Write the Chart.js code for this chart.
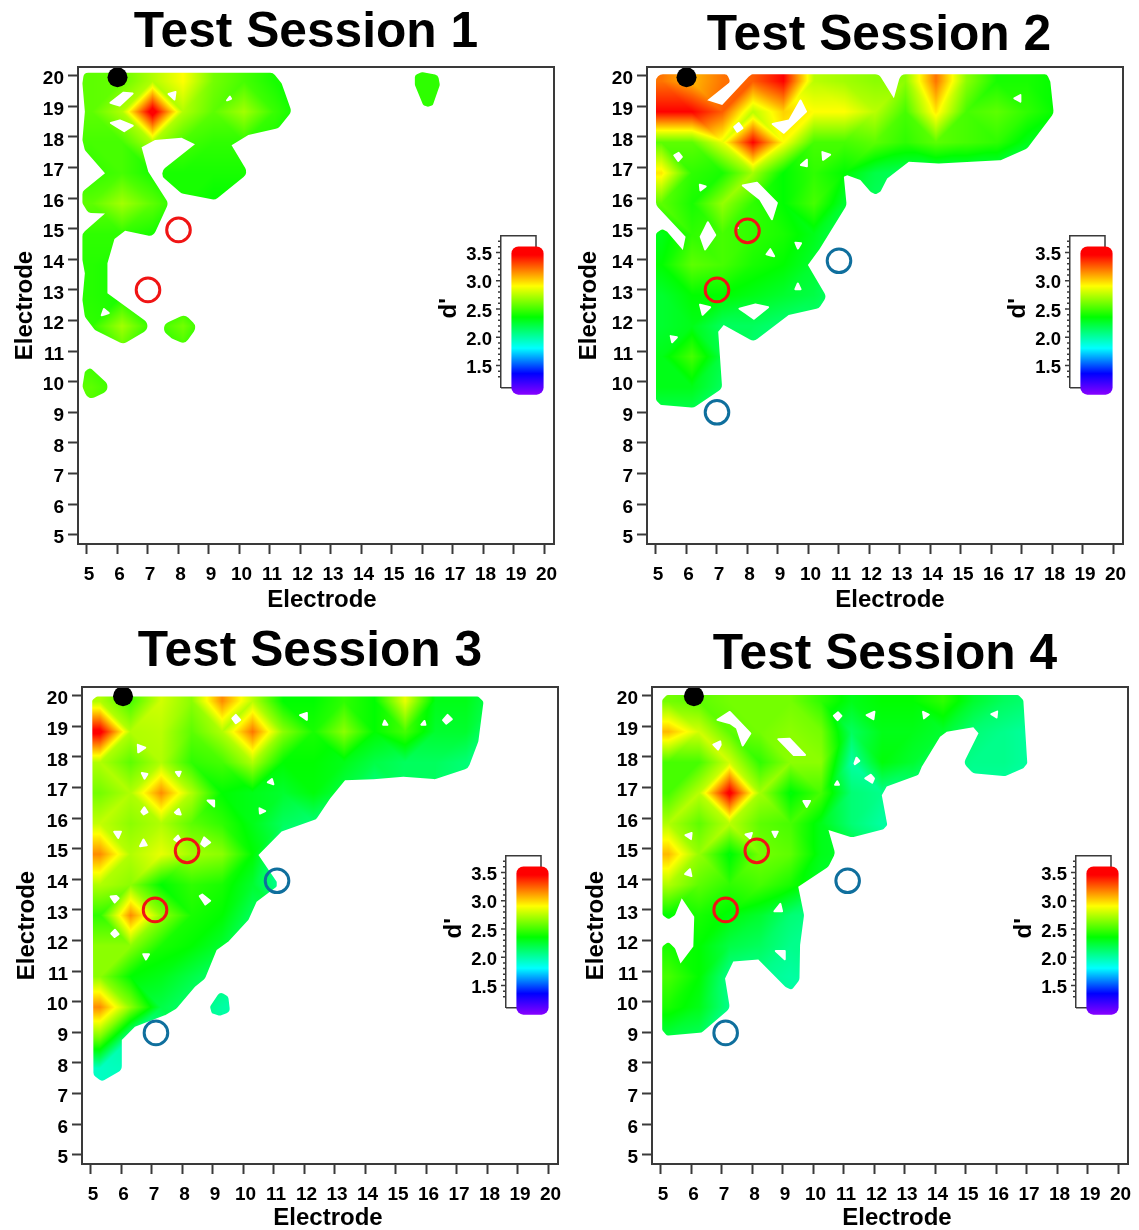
<!DOCTYPE html>
<html><head><meta charset="utf-8">
<style>html,body{margin:0;padding:0;background:#fff;overflow:hidden;width:1139px;height:1230px}
canvas{position:absolute}</style>
<script src="https://cdn.jsdelivr.net/npm/chart.js@4"></script></head>
<body>
<script>
const _ = null;
const titles = ['Test Session 1','Test Session 2','Test Session 3','Test Session 4'];
const electrodeTicks = [5,6,7,8,9,10,11,12,13,14,15,16,17,18,19,20];
const barTicks = [1.3,1.4,1.5,1.6,1.7,1.8,1.9,2.0,2.1,2.2,2.3,2.4,2.5,2.6,2.7,2.8,2.9,3.0,3.1,3.2,3.3,3.4,3.5,3.6,3.7];
const barLabels = [1.5,2.0,2.5,3.0,3.5];
const barRange = [0.99,3.6];
const colorStops = [1.05,1.4,1.85,2.4,2.95,3.5];
const colorRGB = [[128,0,255],[0,0,255],[0,255,255],[0,255,0],[255,255,0],[255,0,0]];

// d' grids: rows are electrode 20 downward, columns are electrode 5 upward
const grid1 = [
[2.6,2.62,2.78,2.95,2.65,2.55,2.45,_,_,_,_,2.5,2.5],
[2.6,2.78,3.6,2.78,2.6,2.75,2.52,2.4,_,_,_,2.5,2.5],
[2.55,2.55,2.78,2.55,2.5,2.5,2.45,_,_,_,_,2.45],
[2.5,2.55,2.45,2.45,2.45,2.45],
[2.6,2.75,2.6,2.45,2.4,2.4],
[2.5,2.5,2.45,2.4],
[2.48,2.45,2.4],
[2.48,2.45,2.45,2.4],
[2.5,2.75,2.5,2.65,2.4],
[2.5,2.55,2.5,2.5],
[2.6,2.5],
[2.55,2.4]];
const grid2 = [
[3.25,3.1,3.25,3.3,3.5,2.8,2.75,2.7,2.7,3.25,2.7,2.45,2.45,2.4],
[3.5,3.5,3.3,2.8,3.05,2.95,2.95,2.8,2.55,3.0,2.55,2.6,2.5,2.4],
[2.6,2.6,2.9,3.5,2.95,2.55,2.55,2.6,2.5,2.6,2.55,2.5,2.35,2.2],
[3.0,2.5,2.45,2.75,2.4,2.5,2.4,2.25,2.2,2.2,2.2,2.2,2.2],
[2.6,2.45,2.72,2.5,2.4,2.55,2.3,2.2],
[2.35,2.5,2.55,2.5,2.45,2.35,2.2],
[2.4,2.6,2.55,2.45,2.4,2.3,2.15],
[2.3,2.4,2.4,2.35,2.3,2.25,2.15],
[2.3,2.35,2.2,2.2,2.15,2.15],
[2.35,2.55,2.25,2.15],
[2.35,2.35,2.2],
[2.2,2.2,2.2]];
const grid3 = [
[2.78,2.55,2.85,2.7,3.2,2.8,2.4,2.4,2.5,2.4,2.9,2.35,2.35,2.2],
[3.55,2.78,2.8,2.6,2.78,3.25,2.7,2.45,2.7,2.4,2.55,2.3,2.3,2.1],
[2.78,2.6,2.78,2.5,2.55,2.78,2.4,2.4,2.35,2.25,2.2,2.2,2.15,2.05],
[2.65,2.78,3.2,2.78,2.4,2.35,2.3,2.38,2.25,2.1],
[2.82,2.7,2.78,2.6,2.5,2.35,2.2,2.15,2.05],
[3.2,2.78,2.9,2.75,2.7,2.4,2.05,2.0],
[2.78,2.7,2.4,2.5,2.45,2.3,2.05],
[2.5,3.2,2.72,2.45,2.4,2.2],
[2.7,2.7,2.45,2.4,2.3,2.15],
[2.7,2.4,2.35,2.25,2.15],
[3.2,2.7,2.25,2.15,2.05,2.0],
[2.65,2.05,2.05],
[1.98,2.0],
[1.98,2.0]];
const grid4 = [
[2.65,2.6,2.65,2.65,2.65,2.5,2.35,2.4,2.4,2.5,2.3,2.2,2.15],
[3.1,2.85,2.6,2.65,2.7,2.65,2.2,2.35,2.35,2.3,2.15,2.1,2.05],
[2.55,2.55,2.85,2.5,2.7,2.7,2.05,2.38,2.3,2.15,2.1,2.1,2.05],
[2.55,2.8,3.55,2.75,2.38,2.55,2.15,2.1,2.1,_,2.05,2.05],
[2.78,2.6,2.8,2.6,2.55,2.35,2.15,2.05],
[3.1,2.72,2.38,2.65,2.6,2.35,2.3],
[2.78,2.6,2.5,2.55,2.45,2.3],
[2.4,2.45,2.38,2.3,2.15,2.1],
[2.45,2.4,2.25,2.2,2.1,2.1],
[2.55,2.4,2.1,2.1,2.05],
[2.45,2.35,2.1],
[2.25,2.2,2.1]];

// regions above threshold, in electrode units
const region1 = [
[[4.9,20.1],[11.1,20.1],[11.38,19.75],[11.71,18.82],[11.27,18.28],[10.29,18.06],[9.74,17.73],[10.29,16.81],[9.2,15.94],[8.1,16.15],[7.34,16.81],[8.54,17.76],[8.1,17.97],[7.23,17.9],[6.79,17.66],[7.01,16.86],[7.67,15.83],[7.17,14.74],[6.25,14.93],[5.9,14.66],[5.67,13.87],[5.67,12.89],[7.17,11.8],[6.19,11.23],[5.26,11.69],[4.93,12.12],[4.85,12.67],[4.93,13.54],[4.85,13.98],[4.85,14.85],[5.59,15.5],[5.04,15.52],[4.85,15.83],[4.85,16.21],[5.59,16.81],[4.93,17.57],[4.85,17.9],[4.93,18.82],[4.85,19.75]],
[[7.34,11.8],[8.21,12.2],[8.62,11.8],[8.21,11.23],[7.77,11.42]],
[[5.1,10.46],[5.84,9.78],[5.04,9.38],[4.85,9.84],[4.93,10.33]],
[[15.75,20.02],[15.98,20.12],[16.51,20.02],[16.57,19.7],[16.34,19.04],[16.18,18.98],[16.02,19.04],[15.75,19.7]]];
const gaps1 = [
[[5.7,19.1],[6.19,19.48],[6.57,19.44],[6.08,18.99]],
[[5.7,18.47],[6.08,18.57],[6.57,18.37],[6.22,18.15]],
[[7.61,19.42],[7.94,19.51],[7.89,19.15]],
[[9.49,19.12],[9.69,19.37],[9.77,19.23]],
[[5.43,12.12],[5.54,12.43],[5.78,12.23]]];

const region2 = [
[[5,20.05],[7.33,20.05],[7.44,19.8],[6.68,19.2],[7.17,19.04],[8.04,19.97],[8.15,20.05],[12.31,20.05],[12.8,19.26],[13.02,20.05],[17.82,20.05],[17.93,19.8],[18.04,18.77],[17.17,17.62],[16.3,17.24],[14.27,17.13],[13.29,17.19],[12.58,16.64],[12.36,16.21],[12.2,16.12],[12.03,16.21],[11.7,16.59],[11.27,16.75],[11.16,16.7],[11.25,15.77],[10.34,14.3],[9.98,13.81],[10.59,12.78],[10.34,12.4],[9.35,12.18],[8.21,11.31],[7.22,11.85],[7.04,11.63],[7.17,9.78],[6.24,9.15],[5.15,9.24],[5,9.4],[5,14.85],[5.2,14.99],[5.37,14.9],[5.88,14.3],[5.97,14.74],[5,15.77]]];
const gaps2 = [
[[8.75,18.44],[9.35,18.57],[9.74,19.26],[9.96,18.82],[9.19,18.09]],
[[7.52,18.33],[7.72,18.5],[7.88,18.28],[7.66,18.12]],
[[5.55,17.41],[5.75,17.52],[5.89,17.35],[5.73,17.16]],
[[6.4,16.48],[6.7,16.39],[6.43,16.19]],
[[7.77,16.43],[8.32,16.54],[9.0,15.85],[8.81,15.23],[8.39,15.94]],
[[6.7,15.28],[6.98,14.79],[6.6,14.25],[6.43,14.74]],
[[7.66,15.07],[7.85,14.99],[7.66,14.99]],
[[8.57,14.14],[8.75,14.39],[8.94,14.05]],
[[9.52,14.58],[9.81,14.55],[9.65,14.28]],
[[9.52,12.99],[9.65,13.29],[9.79,12.99]],
[[6.4,12.56],[6.84,12.45],[6.51,12.12]],
[[7.66,12.4],[8.26,12.56],[8.75,12.45],[8.21,12.02]],
[[5.44,11.53],[5.75,11.47],[5.51,11.22]],
[[9.68,17.06],[9.98,17.33],[9.98,17.0]],
[[10.42,17.55],[10.78,17.43],[10.45,17.19]],
[[16.68,19.26],[16.98,19.42],[16.98,19.1]]];

const region3 = [
[[5.04,19.86],[5.19,19.97],[17.7,19.97],[17.87,19.81],[17.7,18.5],[17.37,17.63],[16.28,17.27],[15.24,17.35],[14.26,17.27],[13.33,17.24],[12.84,16.64],[12.38,15.96],[11.25,15.56],[10.49,14.79],[11.09,13.92],[11.09,13.76],[10.43,13.27],[10.16,12.67],[9.5,11.96],[9.12,11.69],[8.74,10.76],[8.41,10.49],[7.81,9.78],[7.43,9.56],[6.44,9.18],[6.01,8.75],[6.01,7.77],[5.35,7.39],[5.08,7.6]],
[[8.9,9.84],[9.23,10.33],[9.5,10.17],[9.56,9.67],[9.23,9.54],[8.96,9.62]]];
const gaps3 = [
[[6.5,18.44],[6.85,18.31],[6.52,18.09]],
[[6.61,17.52],[6.9,17.46],[6.75,17.22]],
[[7.72,17.54],[7.99,17.55],[7.89,17.3]],
[[8.74,16.61],[9.07,16.61],[9.07,16.3]],
[[6.61,16.21],[6.75,16.41],[6.9,16.18],[6.72,16.08]],
[[7.7,16.18],[7.89,16.35],[7.99,16.08],[7.81,16.1]],
[[10.73,17.16],[10.95,17.33],[11.03,17.05]],
[[10.49,16.37],[10.79,16.23],[10.51,16.1]],
[[5.7,15.59],[6.03,15.59],[5.9,15.28]],
[[6.55,15.04],[6.72,15.37],[6.88,15.09]],
[[7.68,15.3],[7.86,15.48],[7.97,15.28],[7.86,15.17]],
[[8.57,15.15],[8.7,15.42],[8.96,15.2],[8.72,15.03]],
[[8.52,13.46],[8.65,13.54],[8.96,13.3],[8.74,13.13]],
[[5.59,13.46],[5.84,13.49],[5.95,13.38],[5.77,13.19]],
[[5.62,12.23],[5.79,12.4],[5.95,12.2],[5.77,12.07]],
[[6.66,11.58],[6.96,11.58],[6.8,11.31]],
[[9.59,19.26],[9.75,19.42],[9.94,19.2],[9.74,19.06]],
[[11.78,19.37],[12.11,19.48],[12.11,19.15]],
[[14.53,19.02],[14.62,19.26],[14.78,19.02]],
[[15.76,19.02],[15.95,19.24],[16.01,19.02]],
[[16.5,19.2],[16.69,19.42],[16.88,19.23],[16.64,19.04]]];

const region4 = [
[[5.04,19.86],[5.19,20.02],[16.72,20.02],[16.88,19.86],[17.01,17.79],[16.88,17.63],[16.28,17.37],[15.24,17.46],[14.92,17.79],[15.41,18.77],[15.24,18.97],[14.37,18.82],[14.15,18.66],[13.55,17.68],[13.44,17.41],[12.4,17.03],[12.24,16.75],[12.42,15.77],[12.29,15.63],[11.25,15.37],[10.49,15.61],[10.71,14.85],[10.49,14.41],[9.5,13.76],[9.69,12.83],[9.56,11.85],[9.54,10.71],[9.28,10.38],[9.07,10.49],[8.19,11.38],[7.37,11.31],[7.1,10.76],[7.26,9.78],[6.33,8.99],[5.19,8.89],[5.04,9.07],[5.04,11.8],[5.24,11.96],[5.46,11.74],[5.64,11.25],[6.06,11.8],[6.09,12.78],[5.68,13.38],[5.46,12.83],[5.24,12.69],[5.05,12.83]]];
const gaps4 = [
[[6.77,19.2],[7.26,19.51],[7.97,18.77],[7.67,18.3],[7.46,18.93],[7.26,19.07]],
[[6.66,18.41],[6.97,18.55],[6.99,18.39],[6.88,18.19]],
[[8.77,18.61],[9.23,18.63],[9.8,18.03],[9.34,18.03]],
[[10.62,19.35],[10.81,19.5],[10.96,19.34],[10.79,19.15]],
[[11.31,17.79],[11.4,18.04],[11.55,17.86],[11.34,17.71]],
[[11.64,17.3],[11.88,17.46],[12.02,17.3],[11.94,17.11]],
[[10.65,17.06],[10.78,17.27],[10.89,17.06]],
[[9.61,16.59],[9.94,16.59],[9.78,16.3]],
[[11.67,19.37],[12.04,19.53],[11.99,19.18]],
[[13.55,19.53],[13.84,19.39],[13.6,19.2]],
[[15.76,19.4],[16.06,19.53],[16.03,19.24]],
[[5.73,15.45],[6.04,15.56],[6.01,15.26]],
[[7.7,15.48],[8.03,15.56],[7.94,15.28]],
[[8.6,15.59],[8.88,15.59],[8.74,15.31]],
[[5.73,14.16],[5.97,14.39],[6.04,14.06]],
[[8.65,12.92],[8.93,13.27],[9.01,12.92]],
[[8.68,11.69],[9.09,11.69],[9.09,11.31]]];

// reference electrodes
const black1=[[6,19.95]], red1=[[8,14.96],[7,13]], blue1=[];
const black2=[[6,19.95]], red2=[[8,14.93],[7,13]], blue2=[[11,13.95],[7,9]];
const black3=[[6.05,19.98]], red3=[[8.15,14.93],[7.1,13]], blue3=[[11.1,13.95],[7.13,8.98]];
const black4=[[6.08,19.98]], red4=[[8.14,14.93],[7.12,13]], blue4=[[11.12,13.95],[7.12,8.98]];

const FONT = 'Liberation Sans';
const INK = '#3a3a3a';
const XSPAN = [4.705,20.312], YSPAN = [4.696,20.284];
const panels = [
 {grid:grid1,region:region1,gaps:gaps1,black:black1,red:red1,blue:blue1,shift:0.15,title:titles[0],
  L:0,W:612,T:0,H:615,box:[78,67,554,544],titleX:306,titleY:33,yTitlePad:13,xTitleDx:6,xTitlePad:3,barDx:0,barDy:0},
 {grid:grid2,region:region2,gaps:gaps2,black:black2,red:red2,blue:blue2,shift:0.18,title:titles[1],
  L:570,W:618,T:0,H:615,box:[647,67,1123,544],titleX:879,titleY:36,yTitlePad:7,xTitleDx:5,xTitlePad:3,barDx:569,barDy:0},
 {grid:grid3,region:region3,gaps:gaps3,black:black3,red:red3,blue:blue3,shift:0.3,title:titles[2],
  L:0,W:620,T:615,H:617,box:[82,687,558,1164],titleX:310,titleY:652,yTitlePad:15,xTitleDx:8,xTitlePad:2,barDx:5,barDy:620},
 {grid:grid4,region:region4,gaps:gaps4,black:black4,red:red4,blue:blue4,shift:0.25,title:titles[3],
  L:575,W:620,T:615,H:617,box:[652,687,1128,1164],titleX:885,titleY:655,yTitlePad:9,xTitleDx:7,xTitlePad:2,barDx:575,barDy:620}
];
const SHIFT_Y = 0.18;

function colorOf(v){
  const s=colorStops,c=colorRGB;
  if(v<=s[0])return c[0];
  for(let i=1;i<s.length;i++){
    if(v<=s[i]){const t=(v-s[i-1])/(s[i]-s[i-1]);
      return [0,1,2].map(k=>c[i-1][k]+(c[i][k]-c[i-1][k])*t);}
  }
  return c[c.length-1];
}
function valueAt(g,u,w){
  u=Math.max(0,Math.min(14.999,u));w=Math.max(0,Math.min(14.999,w));
  const i=Math.floor(u),j=Math.floor(w),fu=u-i,fw=w-j;
  const cell=[g[j]?.[i]??null,g[j]?.[i+1]??null,g[j+1]?.[i]??null,g[j+1]?.[i+1]??null];
  const have=cell.filter(v=>v!==null);
  if(!have.length)return null;
  const m=have.reduce((a,b)=>a+b,0)/have.length;
  const [a,b,c,d]=cell.map(v=>v===null?m:v);
  if(Math.abs(a-d)<=Math.abs(b-c)){
    return fu>=fw? a+(b-a)*fu+(d-b)*fw : a+(c-a)*fw+(d-c)*fu;
  }
  return fu+fw<=1? a+(b-a)*fu+(c-a)*fw : d+(c-d)*(1-fu)+(b-d)*(1-fw);
}
function tracePoly(ctx,pts,R){
  let area=0;const n=pts.length;
  for(let i=0;i<n;i++){const p=pts[i],q=pts[(i+1)%n];area+=p[0]*q[1]-q[0]*p[1];}
  const d=(p,q)=>Math.hypot(p[0]-q[0],p[1]-q[1]);
  const last=pts[n-1],first=pts[0];
  ctx.moveTo((last[0]+first[0])/2,(last[1]+first[1])/2);
  for(let i=0;i<n;i++){
    const p=pts[i],prev=pts[(i-1+n)%n],next=pts[(i+1)%n];
    const cross=(p[0]-prev[0])*(next[1]-p[1])-(p[1]-prev[1])*(next[0]-p[0]);
    const r=(cross*area>0)?Math.min(R,0.45*d(p,prev),0.45*d(p,next)):0;
    if(r>0)ctx.arcTo(p[0],p[1],next[0],next[1],r);else ctx.lineTo(p[0],p[1]);
  }
  ctx.closePath();
}
function nudgeTitle(s,dx,dy){
  if(s._nudged)return;
  const o=s.drawTitle.bind(s);
  s.drawTitle=function(){const c=this.ctx;c.save();c.translate(dx,dy);o();c.restore();};
  s._nudged=true;
}
function surfacePlugin(p){
  return {id:'surface',
    beforeDatasetsDraw(chart){
      const {ctx,chartArea:A,scales:{x:xs,y:ys}}=chart;
      const w=Math.round(A.right-A.left),h=Math.round(A.bottom-A.top);
      const off=document.createElement('canvas');off.width=w;off.height=h;
      const oc=off.getContext('2d');const img=oc.createImageData(w,h);
      for(let py=0;py<h;py++){
        const yv=ys.getValueForPixel(A.top+py+.5);
        for(let px=0;px<w;px++){
          const xv=xs.getValueForPixel(A.left+px+.5);
          const v=valueAt(p.grid,xv-5-p.shift,20-SHIFT_Y-yv);
          if(v===null)continue;
          const c=colorOf(v),k=(py*w+px)*4;
          img.data[k]=c[0];img.data[k+1]=c[1];img.data[k+2]=c[2];img.data[k+3]=255;
        }
      }
      oc.putImageData(img,0,0);
      const toPx=q=>[xs.getPixelForValue(q[0])-A.left,ys.getPixelForValue(q[1])-A.top];
      oc.globalCompositeOperation='destination-in';
      oc.fillStyle='#000';oc.beginPath();
      p.region.forEach(poly=>tracePoly(oc,poly.map(toPx),7));
      oc.fill();
      oc.globalCompositeOperation='destination-out';
      oc.beginPath();
      p.gaps.forEach(poly=>tracePoly(oc,poly.map(toPx),1));
      oc.fill();
      ctx.drawImage(off,A.left,A.top);
    },
    afterDatasetsDraw(chart){
      const {ctx,chartArea:A}=chart;
      ctx.save();ctx.strokeStyle=INK;ctx.lineWidth=2;
      ctx.strokeRect(A.left,A.top,A.right-A.left,A.bottom-A.top);ctx.restore();
    },
    afterLayout(chart){
      nudgeTitle(chart.scales.x,p.xTitleDx,0);
      const t=chart.titleBlock;
      const d=(p.titleX-p.L)-(t.left+t.right)/2;
      t.left+=d;t.right+=d;
    }
  };
}
function mkCanvas(l,t,w,h){
  const c=document.createElement('canvas');
  c.width=w;c.height=h;c.style.left=l+'px';c.style.top=t+'px';c.style.width=w+'px';c.style.height=h+'px';
  document.body.appendChild(c);return c;
}
const pts=a=>a.map(q=>({x:q[0],y:q[1]}));

panels.forEach(p=>{
  const [bl,bt,br,bb]=p.box;
  const surface=[];
  p.grid.forEach((row,j)=>row.forEach((v,i)=>{if(v!==null)surface.push({x:5+i+p.shift,y:20-j-SHIFT_Y,v});}));
  const tp=p.titleY-p.T-24.5;
  new Chart(mkCanvas(p.L,p.T,p.W,p.H),{
    type:'scatter',
    data:{datasets:[
      {label:"d'",data:surface,pointRadius:0,pointHoverRadius:0,order:4},
      {label:'black',data:pts(p.black),pointRadius:10,backgroundColor:'#000',borderWidth:0,order:1},
      {label:'red',data:pts(p.red),pointRadius:11.8,backgroundColor:'rgba(0,0,0,0)',borderColor:'#f01414',borderWidth:3,order:2},
      {label:'blue',data:pts(p.blue),pointRadius:11.8,backgroundColor:'rgba(0,0,0,0)',borderColor:'#0f6f9d',borderWidth:3,order:3}
    ]},
    options:{
      responsive:false,animation:false,devicePixelRatio:1,
      layout:{padding:{left:0,top:0,bottom:0,right:p.L+p.W-br}},
      plugins:{legend:{display:false},tooltip:{enabled:false},
        title:{display:true,text:p.title,color:'#000',
          font:{family:FONT,size:49.7,weight:'bold',lineHeight:1},
          padding:{top:tp,bottom:bt-p.T-49.7-tp}}},
      scales:{
        x:{type:'linear',min:XSPAN[0],max:XSPAN[1],
          afterBuildTicks:a=>{a.ticks=electrodeTicks.map(value=>({value}));},
          afterFit:s=>{s.height=p.T+p.H-bb;},
          border:{display:false},
          grid:{drawOnChartArea:false,tickLength:10,tickWidth:2,tickColor:INK,color:INK},
          ticks:{color:'#000',font:{family:FONT,size:19,weight:'bold'},padding:9,labelOffset:2,maxRotation:0,autoSkip:false,callback:v=>String(v)},
          title:{display:true,text:'Electrode',color:'#000',font:{family:FONT,size:24,weight:'bold',lineHeight:1},padding:{top:0,bottom:p.xTitlePad}}},
        y:{type:'linear',min:YSPAN[0],max:YSPAN[1],
          afterBuildTicks:a=>{a.ticks=electrodeTicks.map(value=>({value}));},
          afterFit:s=>{s.width=bl-p.L;},
          border:{display:false},
          grid:{drawOnChartArea:false,tickLength:10,tickWidth:2,tickColor:INK,color:INK},
          ticks:{color:'#000',font:{family:FONT,size:19,weight:'bold'},padding:4,labelOffset:3.5,autoSkip:false,callback:v=>String(v)},
          title:{display:true,text:'Electrode',color:'#000',font:{family:FONT,size:24,weight:'bold',lineHeight:1},padding:{top:p.yTitlePad,bottom:0}}}
      }
    },
    plugins:[surfacePlugin(p)]
  });

  // colour key
  const barShift=0.044;
  new Chart(mkCanvas(430+p.barDx,225+p.barDy,130,180),{
    type:'bar',
    data:{labels:["d'"],datasets:[{data:[barRange],barThickness:31.5,borderRadius:7,borderSkipped:false,clip:false,
      backgroundColor(c){
        const ch=c.chart;if(!ch.chartArea)return '#0f0';
        const y=ch.scales.y,p0=y.getPixelForValue(barRange[1]),p1=y.getPixelForValue(barRange[0]);
        const g=ch.ctx.createLinearGradient(0,p0,0,p1);
        colorStops.forEach((s,i)=>{
          const t=Math.max(0,Math.min(1,(y.getPixelForValue(s-barShift)-p0)/(p1-p0)));
          g.addColorStop(t,`rgb(${colorRGB[i].join(',')})`);});
        return g;
      }}]},
    options:{
      responsive:false,animation:false,devicePixelRatio:1,
      layout:{padding:{left:0,right:6,top:10.7,bottom:17.3}},
      plugins:{legend:{display:false},tooltip:{enabled:false},title:{display:false}},
      scales:{
        x:{display:false},
        y:{min:1.107,max:3.797,
          afterBuildTicks:a=>{a.ticks=barTicks.map(value=>({value}));},
          afterFit:s=>{s.width=71;s.paddingTop=0;s.paddingBottom=0;},
          border:{display:true,color:INK,width:1.5},
          grid:{drawOnChartArea:false,drawTicks:false},
          ticks:{color:'#000',font:{family:FONT,size:18.5,weight:'bold'},padding:9,labelOffset:2.5,autoSkip:false,
            callback:v=>barLabels.some(b=>Math.abs(b-v)<1e-6)?v.toFixed(1):''},
          title:{display:true,text:"d'",color:'#000',font:{family:FONT,size:24,weight:'bold',lineHeight:1},padding:{top:7,bottom:0}}}
      }
    },
    plugins:[{id:'bracket',
      afterLayout(ch){nudgeTitle(ch.scales.y,0,-3.5);},
      beforeDatasetsDraw(ch){
      const {ctx,chartArea:A,scales:{y}}=ch;
      ctx.save();ctx.strokeStyle=INK;ctx.lineWidth=1.5;ctx.beginPath();
      ctx.moveTo(A.left,A.top);ctx.lineTo(A.left+35,A.top);ctx.lineTo(A.left+35,A.top+12);
      ctx.moveTo(A.left,A.bottom);ctx.lineTo(A.left+12,A.bottom);
      y.ticks.forEach(t=>{
        const py=y.getPixelForValue(t.value),major=barLabels.some(b=>Math.abs(b-t.value)<1e-6);
        ctx.moveTo(A.left,py);ctx.lineTo(A.left-(major?5:3),py);
      });
      ctx.stroke();ctx.restore();
    }}]
  });
});
</script>
</body></html>
